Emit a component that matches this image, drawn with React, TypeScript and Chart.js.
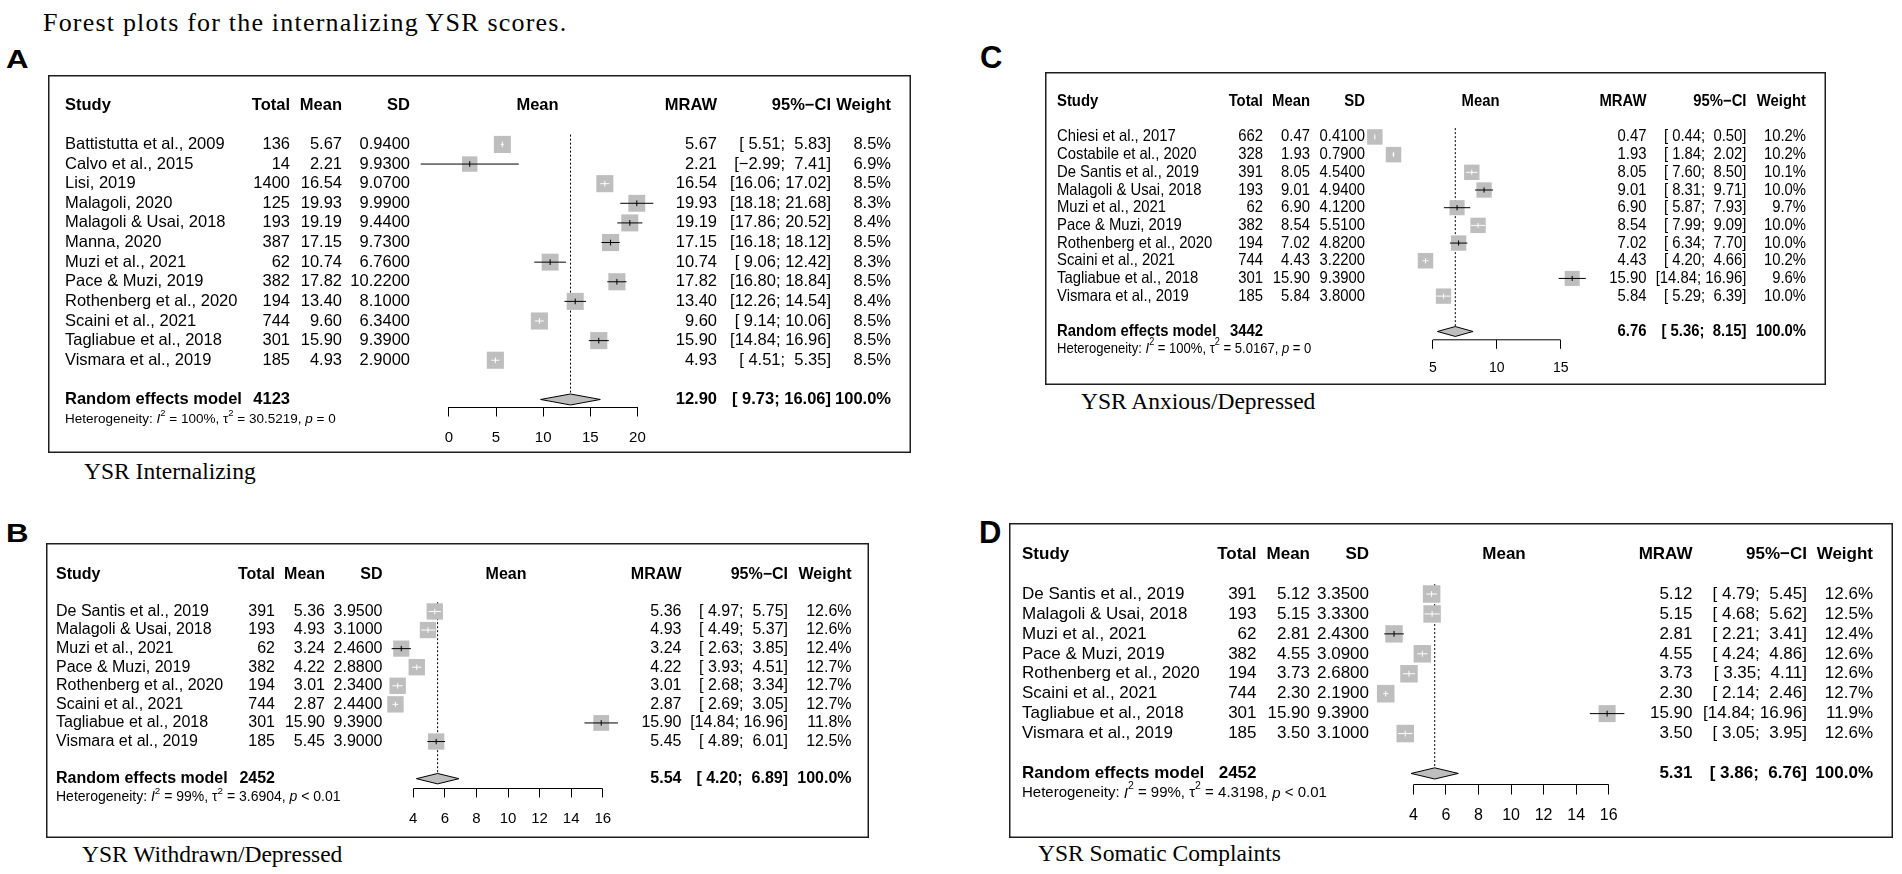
import React, { useEffect, useRef } from 'react';
import { Chart, registerables } from 'chart.js';

Chart.register(...registerables);

const FAMILY = '"Liberation Sans", Arial, Helvetica, sans-serif';
const SERIF = '"Liberation Serif", "Times New Roman", Times, serif';
const GREY = '#bebebe';

// ---------------- Panel A : YSR Internalizing ----------------
const studiesA = ['Battistutta et al., 2009', 'Calvo et al., 2015', 'Lisi, 2019', 'Malagoli, 2020', 'Malagoli & Usai, 2018', 'Manna, 2020', 'Muzi et al., 2021', 'Pace & Muzi, 2019', 'Rothenberg et al., 2020', 'Scaini et al., 2021', 'Tagliabue et al., 2018', 'Vismara et al., 2019'];
const totalA = [136, 14, 1400, 125, 193, 387, 62, 382, 194, 744, 301, 185];
const meanA = [5.67, 2.21, 16.54, 19.93, 19.19, 17.15, 10.74, 17.82, 13.4, 9.6, 15.9, 4.93];
const sdA = [0.94, 9.93, 9.07, 9.99, 9.44, 9.73, 6.76, 10.22, 8.1, 6.34, 9.39, 2.9];
const lowerA = [5.51, -2.99, 16.06, 18.18, 17.86, 16.18, 9.06, 16.8, 12.26, 9.14, 14.84, 4.51];
const upperA = [5.83, 7.41, 17.02, 21.68, 20.52, 18.12, 12.42, 18.84, 14.54, 10.06, 16.96, 5.35];
const weightA = [8.5, 6.9, 8.5, 8.3, 8.4, 8.5, 8.3, 8.5, 8.4, 8.5, 8.5, 8.5];
const pooledA = [12.9, 9.73, 16.06];
const pooledTotalA = 4123;
const hetA = ['100%', '30.5219', '= 0'];
const ticksA = [0, 5, 10, 15, 20];

// ---------------- Panel B : YSR Withdrawn/Depressed ----------------
const studiesB = ['De Santis et al., 2019', 'Malagoli & Usai, 2018', 'Muzi et al., 2021', 'Pace & Muzi, 2019', 'Rothenberg et al., 2020', 'Scaini et al., 2021', 'Tagliabue et al., 2018', 'Vismara et al., 2019'];
const totalB = [391, 193, 62, 382, 194, 744, 301, 185];
const meanB = [5.36, 4.93, 3.24, 4.22, 3.01, 2.87, 15.9, 5.45];
const sdB = [3.95, 3.1, 2.46, 2.88, 2.34, 2.44, 9.39, 3.9];
const lowerB = [4.97, 4.49, 2.63, 3.93, 2.68, 2.69, 14.84, 4.89];
const upperB = [5.75, 5.37, 3.85, 4.51, 3.34, 3.05, 16.96, 6.01];
const weightB = [12.6, 12.6, 12.4, 12.7, 12.7, 12.7, 11.8, 12.5];
const pooledB = [5.54, 4.2, 6.89];
const pooledTotalB = 2452;
const hetB = ['99%', '3.6904', '< 0.01'];
const ticksB = [4, 6, 8, 10, 12, 14, 16];

// ---------------- Panel C : YSR Anxious/Depressed ----------------
const studiesC = ['Chiesi et al., 2017', 'Costabile et al., 2020', 'De Santis et al., 2019', 'Malagoli & Usai, 2018', 'Muzi et al., 2021', 'Pace & Muzi, 2019', 'Rothenberg et al., 2020', 'Scaini et al., 2021', 'Tagliabue et al., 2018', 'Vismara et al., 2019'];
const totalC = [662, 328, 391, 193, 62, 382, 194, 744, 301, 185];
const meanC = [0.47, 1.93, 8.05, 9.01, 6.9, 8.54, 7.02, 4.43, 15.9, 5.84];
const sdC = [0.41, 0.79, 4.54, 4.94, 4.12, 5.51, 4.82, 3.22, 9.39, 3.8];
const lowerC = [0.44, 1.84, 7.6, 8.31, 5.87, 7.99, 6.34, 4.2, 14.84, 5.29];
const upperC = [0.5, 2.02, 8.5, 9.71, 7.93, 9.09, 7.7, 4.66, 16.96, 6.39];
const weightC = [10.2, 10.2, 10.1, 10.0, 9.7, 10.0, 10.0, 10.2, 9.6, 10.0];
const pooledC = [6.76, 5.36, 8.15];
const pooledTotalC = 3442;
const hetC = ['100%', '5.0167', '= 0'];
const ticksC = [5, 10, 15];

// ---------------- Panel D : YSR Somatic Complaints ----------------
const studiesD = ['De Santis et al., 2019', 'Malagoli & Usai, 2018', 'Muzi et al., 2021', 'Pace & Muzi, 2019', 'Rothenberg et al., 2020', 'Scaini et al., 2021', 'Tagliabue et al., 2018', 'Vismara et al., 2019'];
const totalD = [391, 193, 62, 382, 194, 744, 301, 185];
const meanD = [5.12, 5.15, 2.81, 4.55, 3.73, 2.3, 15.9, 3.5];
const sdD = [3.35, 3.33, 2.43, 3.09, 2.68, 2.19, 9.39, 3.1];
const lowerD = [4.79, 4.68, 2.21, 4.24, 3.35, 2.14, 14.84, 3.05];
const upperD = [5.45, 5.62, 3.41, 4.86, 4.11, 2.46, 16.96, 3.95];
const weightD = [12.6, 12.5, 12.4, 12.6, 12.6, 12.7, 11.9, 12.6];
const pooledD = [5.31, 3.86, 6.76];
const pooledTotalD = 2452;
const hetD = ['99%', '4.3198', '< 0.01'];
const ticksD = [4, 6, 8, 10, 12, 14, 16];

const dataA = { studies: studiesA, total: totalA, mean: meanA, sd: sdA, lower: lowerA, upper: upperA, weight: weightA, pooled: pooledA, pooledTotal: pooledTotalA, het: hetA, ticks: ticksA };
const dataB = { studies: studiesB, total: totalB, mean: meanB, sd: sdB, lower: lowerB, upper: upperB, weight: weightB, pooled: pooledB, pooledTotal: pooledTotalB, het: hetB, ticks: ticksB };
const dataC = { studies: studiesC, total: totalC, mean: meanC, sd: sdC, lower: lowerC, upper: upperC, weight: weightC, pooled: pooledC, pooledTotal: pooledTotalC, het: hetC, ticks: ticksC };
const dataD = { studies: studiesD, total: totalD, mean: meanD, sd: sdD, lower: lowerD, upper: upperD, weight: weightD, pooled: pooledD, pooledTotal: pooledTotalD, het: hetD, ticks: ticksD };

// ---------------- Layout (page pixel positions) ----------------
const layoutA = { left: 48, top: 75, right: 911, bottom: 453, firstRowY: 134.5, rowH: 20.36, axisY: 407, axisLeft: 448, axisRight: 642, studyX: 65, totalR: 290, meanR: 342, sdR: 410, plotHdrX: 537.5, mrawR: 717, ciR: 831, weightR: 891, font: 16.5, hScale: 1, hetFont: 13.5, tickFont: 15, tickLen: 9, tickPad: 12 };
const layoutB = { left: 46, top: 543, right: 869, bottom: 838, firstRowY: 602.7, rowH: 19.5, axisY: 788, axisLeft: 412, axisRight: 607, studyX: 56, totalR: 275, meanR: 325, sdR: 382.5, plotHdrX: 506, mrawR: 681.5, ciR: 788, weightR: 851.5, font: 16, hScale: 1, hetFont: 14, tickFont: 15, tickLen: 9, tickPad: 12 };
const layoutC = { left: 1045, top: 72, right: 1826, bottom: 385, firstRowY: 128.3, rowH: 18.44, axisY: 339.3, axisLeft: 1432.7, axisRight: 1564.3, studyX: 1057, totalR: 1263, meanR: 1310, sdR: 1365, plotHdrX: 1480.5, mrawR: 1646.5, ciR: 1746.5, weightR: 1806, font: 16.5, hScale: 0.9, hetFont: 14.5, tickFont: 14, tickLen: 9, tickPad: 10.6 };
const layoutD = { left: 1009, top: 523, right: 1893, bottom: 838, firstRowY: 584.5, rowH: 20.93, axisY: 784, axisLeft: 1412.3, axisRight: 1613.3, studyX: 1022, totalR: 1256.5, meanR: 1310, sdR: 1369, plotHdrX: 1504, mrawR: 1692.5, ciR: 1807, weightR: 1873, font: 17, hScale: 1, hetFont: 15, tickFont: 16, tickLen: 10, tickPad: 11.4 };

const fmt2 = (v: number) => v.toFixed(2).replace('-', '\u2212');
const fmtCI = (lo: number, hi: number) => `[${fmt2(lo).padStart(5, ' ')}; ${fmt2(hi).padStart(5, ' ')}]`;

function txt(ctx: any, s: string, x: number, y: number, align: string, font: string, hScale: number) {
  ctx.save();
  ctx.font = font;
  ctx.textAlign = align;
  ctx.textBaseline = 'middle';
  ctx.fillStyle = '#000';
  ctx.translate(x, y);
  ctx.scale(hScale, 1);
  ctx.fillText(s, 0, 0);
  ctx.restore();
}

function richText(ctx: any, parts: any[], x: number, y: number, size: number, hScale: number) {
  ctx.save();
  ctx.translate(x, y);
  ctx.scale(hScale, 1);
  ctx.fillStyle = '#000';
  ctx.textAlign = 'left';
  ctx.textBaseline = 'middle';
  let cx = 0;
  for (const p of parts) {
    const fs = p.sup ? size * 0.7 : size;
    ctx.font = `${p.italic ? 'italic ' : ''}${fs}px ${FAMILY}`;
    ctx.fillText(p.t, cx, p.sup ? -size * 0.45 : 0);
    cx += ctx.measureText(p.t).width;
  }
  ctx.restore();
}

function makeTablePlugin(d: any, L: any) {
  return {
    id: 'forestTable',
    afterDraw(chart: any) {
      const ctx = chart.ctx;
      const ys = chart.scales.y;
      const X = (px: number) => px - L.left;
      const n = d.studies.length;
      const reg = `${L.font}px ${FAMILY}`;
      const bold = `bold ${L.font}px ${FAMILY}`;
      const hs = L.hScale;

      const hy = ys.getPixelForValue(-2);
      txt(ctx, 'Study', X(L.studyX), hy, 'left', bold, hs);
      txt(ctx, 'Total', X(L.totalR), hy, 'right', bold, hs);
      txt(ctx, 'Mean', X(L.meanR), hy, 'right', bold, hs);
      txt(ctx, 'SD', X(L.sdR), hy, 'right', bold, hs);
      txt(ctx, 'Mean', X(L.plotHdrX), hy, 'center', bold, hs);
      txt(ctx, 'MRAW', X(L.mrawR), hy, 'right', bold, hs);
      txt(ctx, '95%\u2212CI', X(L.ciR), hy, 'right', bold, hs);
      txt(ctx, 'Weight', X(L.weightR), hy, 'right', bold, hs);

      for (let i = 0; i < n; i++) {
        const y = ys.getPixelForValue(i);
        txt(ctx, d.studies[i], X(L.studyX), y, 'left', reg, hs);
        txt(ctx, String(d.total[i]), X(L.totalR), y, 'right', reg, hs);
        txt(ctx, fmt2(d.mean[i]), X(L.meanR), y, 'right', reg, hs);
        txt(ctx, d.sd[i].toFixed(4), X(L.sdR), y, 'right', reg, hs);
        txt(ctx, fmt2(d.mean[i]), X(L.mrawR), y, 'right', reg, hs);
        txt(ctx, fmtCI(d.lower[i], d.upper[i]), X(L.ciR), y, 'right', reg, hs);
        txt(ctx, d.weight[i].toFixed(1) + '%', X(L.weightR), y, 'right', reg, hs);
      }

      const sy = ys.getPixelForValue(n + 1);
      txt(ctx, 'Random effects model', X(L.studyX), sy, 'left', bold, hs);
      txt(ctx, String(d.pooledTotal), X(L.totalR), sy, 'right', bold, hs);
      txt(ctx, fmt2(d.pooled[0]), X(L.mrawR), sy, 'right', bold, hs);
      txt(ctx, fmtCI(d.pooled[1], d.pooled[2]), X(L.ciR), sy, 'right', bold, hs);
      txt(ctx, '100.0%', X(L.weightR), sy, 'right', bold, hs);

      const ty = ys.getPixelForValue(n + 2);
      richText(ctx, [
        { t: 'Heterogeneity: ' },
        { t: 'I', italic: true },
        { t: '2', sup: true },
        { t: ` = ${d.het[0]}, ` },
        { t: '\u03c4' },
        { t: '2', sup: true },
        { t: ` = ${d.het[1]}, ` },
        { t: 'p', italic: true },
        { t: ` ${d.het[2]}` },
      ], X(L.studyX), ty, L.hetFont, hs);

      ctx.save();
      ctx.strokeStyle = '#1e1e1e';
      ctx.lineWidth = 1.5;
      ctx.strokeRect(0.75, 0.75, chart.width - 1.5, chart.height - 1.5);
      ctx.restore();
    },
  };
}

function ForestPanel({ d, L }: { d: any; L: any }) {
  const ref = useRef<HTMLCanvasElement>(null);
  const w = L.right - L.left;
  const h = L.bottom - L.top;

  useEffect(() => {
    const canvas = ref.current;
    if (!canvas) return;
    const n = d.studies.length;
    const tMin = d.ticks[0];
    const tMax = d.ticks[d.ticks.length - 1];
    const pxPerUnit = (L.axisRight - L.axisLeft) / (tMax - tMin);
    // the chart area spans the whole box; the scale is extended so that tMin/tMax land on the axis ends
    const xMin = tMin - (L.axisLeft - L.left) / pxPerUnit;
    const xMax = tMax + (L.right - L.axisRight) / pxPerUnit;
    const axisH = L.bottom - L.axisY - 0.5;
    const yMin = (L.top - L.firstRowY) / L.rowH;
    const yMax = (L.bottom - axisH - L.firstRowY) / L.rowH;

    const wmax = Math.max(...d.weight);
    const sides = d.weight.map((wt: number) => 0.84 * L.rowH * Math.sqrt(wt / wmax));
    const inside = d.mean.map((_: number, i: number) => (d.upper[i] - d.lower[i]) * pxPerUnit <= sides[i]);
    const sumRow = n + 1;
    const dh = 0.28;

    const datasets: any[] = [];
    // x axis line, only over the tick range
    datasets.push({
      type: 'line',
      data: [{ x: tMin, y: yMax }, { x: tMax, y: yMax }],
      borderColor: '#000', borderWidth: 1, pointRadius: 0, fill: false, clip: false, order: 7,
    });
    // dotted line at the pooled estimate
    datasets.push({
      type: 'line',
      data: [{ x: d.pooled[0], y: -0.5 }, { x: d.pooled[0], y: sumRow - dh }],
      borderColor: '#000', borderWidth: 1, borderDash: [2, 2], pointRadius: 0, fill: false, clip: false, order: 6,
    });
    // pooled diamond
    datasets.push({
      type: 'line',
      data: [
        { x: d.pooled[1], y: sumRow },
        { x: d.pooled[0], y: sumRow - dh },
        { x: d.pooled[2], y: sumRow },
        { x: d.pooled[0], y: sumRow + dh },
        { x: d.pooled[1], y: sumRow },
      ],
      borderColor: '#000', borderWidth: 1, backgroundColor: GREY, fill: 'shape', pointRadius: 0, clip: false, order: 5,
    });
    // study squares
    datasets.push({
      type: 'scatter',
      data: d.mean.map((m: number, i: number) => ({ x: m, y: i })),
      pointStyle: 'rect',
      pointRadius: sides.map((s: number) => s / Math.SQRT2),
      pointBackgroundColor: GREY,
      pointBorderWidth: 0,
      clip: false,
      order: 4,
    });
    // confidence intervals
    d.mean.forEach((_: number, i: number) => {
      datasets.push({
        type: 'line',
        data: [{ x: d.lower[i], y: i }, { x: d.upper[i], y: i }],
        borderColor: inside[i] ? '#ffffff' : '#000000',
        borderWidth: 1, pointRadius: 0, fill: false, clip: false, order: 3,
      });
    });
    // estimate ticks
    datasets.push({
      type: 'scatter',
      data: d.mean.map((m: number, i: number) => ({ x: m, y: i })),
      pointStyle: 'line',
      pointRotation: 90,
      pointRadius: L.rowH * 0.14,
      pointBorderColor: inside.map((v: boolean) => (v ? '#ffffff' : '#000000')),
      pointBackgroundColor: 'rgba(0,0,0,0)',
      pointBorderWidth: 1,
      clip: false,
      order: 2,
    });

    const chart = new Chart(canvas, {
      type: 'scatter',
      data: { datasets },
      options: {
        animation: false,
        responsive: false,
        maintainAspectRatio: false,
        devicePixelRatio: 1,
        events: [],
        layout: { padding: 0 },
        plugins: { legend: { display: false }, tooltip: { enabled: false } },
        scales: {
          x: {
            type: 'linear',
            position: 'bottom',
            min: xMin,
            max: xMax,
            afterBuildTicks: (s: any) => { s.ticks = d.ticks.map((v: number) => ({ value: v })); },
            afterFit: (s: any) => { s.height = axisH; },
            ticks: { color: '#000', font: { family: FAMILY, size: L.tickFont }, padding: L.tickPad, maxRotation: 0, autoSkip: false },
            grid: { display: true, drawOnChartArea: false, drawTicks: true, tickLength: L.tickLen, color: '#000', lineWidth: 1 },
            border: { display: false },
          },
          y: {
            type: 'linear',
            display: false,
            reverse: true,
            min: yMin,
            max: yMax,
          },
        },
      } as any,
      plugins: [makeTablePlugin(d, L)],
    } as any);
    return () => chart.destroy();
  }, []);

  return (
    <canvas
      ref={ref}
      width={w}
      height={h}
      style={{ position: 'absolute', left: L.left, top: L.top, width: w, height: h }}
    />
  );
}

const panelLetters = [
  { t: 'A', left: 6, top: 46, size: 26, sx: 1.2 },
  { t: 'B', left: 6, top: 520, size: 26, sx: 1.2 },
  { t: 'C', left: 980, top: 42, size: 31, sx: 1 },
  { t: 'D', left: 979, top: 517, size: 31, sx: 1 },
];

const captions = [
  { t: 'YSR Internalizing', left: 84, baseline: 480 },
  { t: 'YSR Withdrawn/Depressed', left: 82, baseline: 863 },
  { t: 'YSR Anxious/Depressed', left: 1081, baseline: 410 },
  { t: 'YSR Somatic Complaints', left: 1038, baseline: 862 },
];

export default function App() {
  const capSize = 23.5;
  const titleSize = 26;
  return (
    <div style={{ position: 'absolute', left: 0, top: 0, width: 1902, height: 874, background: '#fff', overflow: 'hidden' }}>
      <div style={{ position: 'absolute', left: 43, top: 31.7 - 0.8375 * titleSize, font: `${titleSize}px ${SERIF}`, lineHeight: `${titleSize}px`, letterSpacing: '1.2px', whiteSpace: 'nowrap', color: '#000' }}>
        Forest plots for the internalizing YSR scores.
      </div>
      {panelLetters.map((p) => (
        <div key={p.t} style={{ position: 'absolute', left: p.left, top: p.top, font: `bold ${p.size}px ${FAMILY}`, lineHeight: `${p.size}px`, transform: `scaleX(${p.sx})`, transformOrigin: 'left top', color: '#000' }}>
          {p.t}
        </div>
      ))}
      <ForestPanel d={dataA} L={layoutA} />
      <ForestPanel d={dataB} L={layoutB} />
      <ForestPanel d={dataC} L={layoutC} />
      <ForestPanel d={dataD} L={layoutD} />
      {captions.map((c) => (
        <div key={c.t} style={{ position: 'absolute', left: c.left, top: c.baseline - 0.8375 * capSize, font: `${capSize}px ${SERIF}`, lineHeight: `${capSize}px`, whiteSpace: 'nowrap', color: '#000' }}>
          {c.t}
        </div>
      ))}
    </div>
  );
}
